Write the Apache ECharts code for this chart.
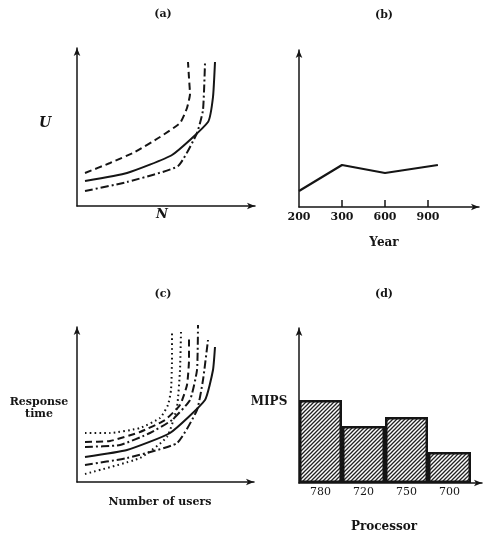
<!DOCTYPE html>
<html>
<head>
<meta charset="utf-8">
<script src="https://cdn.jsdelivr.net/npm/echarts@6/dist/echarts.min.js"></script>
<style>
  html, body { margin: 0; padding: 0; background: #fff; }
  #chart { width: 484px; height: 534px; }
</style>
</head>
<body>
<div id="chart"></div>
<script>
// (a) U against N, three curves
const aDashed = [[8, 33], [33, 43], [58, 54], [83, 69], [103, 83], [110, 98], [113, 112], [112, 128], [111, 144]];
const aSolid = [[8, 25], [50, 33], [95, 51], [131, 84], [136, 109], [138, 144]];
const aDashDot = [[8, 15], [50, 24], [101, 40], [120, 73], [126, 96], [128, 143]];

// (b) Year
const yearLabels = ['200', '300', '600', '900'];
const yearX = [0, 1, 2, 3.23];
const yearY = [16, 42, 34, 42];

// (c) Response time against number of users
const cDottedTop = [[8, 49], [33, 49], [63, 54], [83, 64], [91, 77], [94, 92], [95, 122], [95, 150]];
const cDashed = [[8, 40], [33, 41], [63, 50], [88, 62], [103, 77], [110, 97], [112, 122], [112, 144]];
const cDashDotTop = [[8, 35], [43, 37], [73, 49], [95, 62], [113, 82], [120, 112], [121, 157]];
const cSolid = [[8, 25], [50, 32], [93, 49], [128, 82], [136, 112], [138, 135]];
const cDashDotLow = [[8, 17], [50, 24], [100, 39], [120, 72], [126, 102], [131, 142]];
const cDottedLow = [[8, 8], [63, 24], [90, 45], [100, 75], [103, 112], [104, 150]];

// (d) MIPS per processor
const processors = ['780', '720', '750', '700'];
const mips = [83, 57, 66, 31];

const ink = '#151515';
const serif = '"DejaVu Serif", "Liberation Serif", serif';

function hatch() {
  const c = document.createElement('canvas');
  c.width = 4;
  c.height = 4;
  const g = c.getContext('2d');
  g.fillStyle = '#fff';
  g.fillRect(0, 0, 4, 4);
  g.strokeStyle = '#222';
  g.lineWidth = 1.3;
  g.beginPath();
  g.moveTo(-1, 5); g.lineTo(5, -1);
  g.moveTo(-1, 1); g.lineTo(1, -1);
  g.moveTo(3, 5); g.lineTo(5, 3);
  g.stroke();
  return c;
}

function plainAxis(idx, max, extra) {
  return Object.assign({
    type: 'value', gridIndex: idx, min: 0, max: max,
    axisLine: { show: true, onZero: false, symbol: ['none', 'arrow'], symbolSize: [5, 8], lineStyle: { color: ink, width: 1.5 } },
    axisTick: { show: false }, axisLabel: { show: false }, splitLine: { show: false }
  }, extra || {});
}

function curve(idx, data, type, width) {
  return {
    type: 'line', xAxisIndex: idx, yAxisIndex: idx, data: data,
    symbol: 'none', clip: false, smooth: 0.15,
    lineStyle: { color: ink, width: width || 2, type: type, cap: 'butt' }
  };
}

const dash = [7, 4];
const dashDot = [8, 3, 2, 3];
const dot = [1.6, 3.2];

function txt(x, y, text, size, style) {
  return {
    type: 'text', x: x, y: y,
    style: {
      text: text, fill: ink, align: 'center', verticalAlign: 'middle',
      font: (style || '') + ' bold ' + size + 'px ' + serif, lineHeight: size + 1
    }
  };
}

const chart = echarts.init(document.getElementById('chart'));

chart.setOption({
  animation: false,
  backgroundColor: '#fff',
  grid: [
    { left: 77, top: 48, width: 178, height: 158 },
    { left: 299, top: 50, width: 180, height: 157 },
    { left: 77, top: 327, width: 177, height: 155 },
    { left: 299, top: 328, width: 183, height: 155 }
  ],
  xAxis: [
    plainAxis(0, 178),
    plainAxis(1, 180 / 43, {
      interval: 1,
      axisTick: { show: true, inside: true, length: 7, customValues: [1, 2, 3], lineStyle: { color: ink, width: 1.5 } },
      axisLabel: {
        show: true, customValues: [0, 1, 2, 3], margin: 5, color: ink,
        fontFamily: serif, fontWeight: 'bold', fontSize: 11,
        formatter: (v) => yearLabels[Math.round(v)]
      }
    }),
    plainAxis(2, 177),
    plainAxis(3, 183 / 43, {
      axisLabel: {
        show: true, customValues: [0.5, 1.5, 2.5, 3.5], margin: 4, color: ink,
        fontFamily: serif, fontSize: 11,
        formatter: (v) => processors[Math.floor(v)]
      }
    })
  ],
  yAxis: [
    plainAxis(0, 158),
    plainAxis(1, 157),
    plainAxis(2, 155),
    plainAxis(3, 155)
  ],
  series: [
    curve(0, aDashed, dash),
    curve(0, aSolid, 'solid'),
    curve(0, aDashDot, dashDot),
    {
      type: 'line', xAxisIndex: 1, yAxisIndex: 1, symbol: 'none',
      data: yearX.map((x, i) => [x, yearY[i]]),
      lineStyle: { color: ink, width: 2.2 }
    },
    curve(2, cDottedTop, dot),
    curve(2, cDashed, dash),
    curve(2, cDashDotTop, dashDot),
    curve(2, cSolid, 'solid'),
    curve(2, cDashDotLow, dashDot),
    curve(2, cDottedLow, dot),
    {
      type: 'bar', xAxisIndex: 3, yAxisIndex: 3, barWidth: 43,
      data: mips.map((v, i) => [i + 0.5, v]),
      itemStyle: { color: { image: hatch(), repeat: 'repeat' }, borderColor: ink, borderWidth: 2.5 }
    }
  ],
  graphic: [
    txt(163, 14, '(a)', 11),
    txt(384, 15, '(b)', 11),
    txt(163, 294, '(c)', 11),
    txt(384, 294, '(d)', 11),
    txt(45, 123, 'U', 14, 'italic'),
    txt(162, 215, 'N', 13, 'italic'),
    txt(384, 243, 'Year', 12),
    txt(39, 408, 'Response\ntime', 11),
    txt(160, 502, 'Number of users', 11),
    txt(269, 402, 'MIPS', 12),
    txt(384, 527, 'Processor', 12)
  ]
});
</script>
</body>
</html>
